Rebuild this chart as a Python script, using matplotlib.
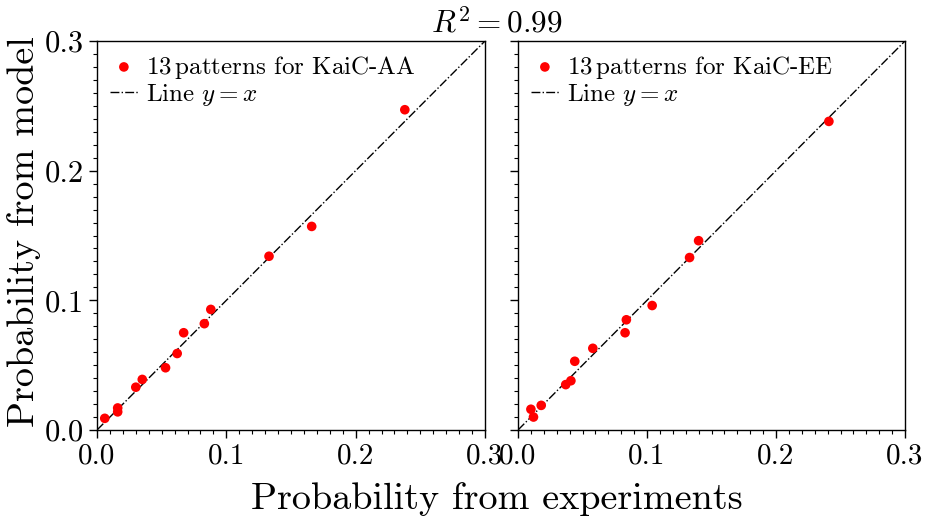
import matplotlib
matplotlib.use("Agg")
import matplotlib.pyplot as plt
from matplotlib.ticker import MultipleLocator
import numpy as np

plt.rcParams['font.family'] = ['cmr10', 'DejaVu Serif']
plt.rcParams['mathtext.fontset'] = 'cm'
plt.rcParams['axes.unicode_minus'] = False
plt.rcParams['axes.formatter.use_mathtext'] = True

aa_exp = [0.006, 0.016, 0.016, 0.030, 0.035, 0.053, 0.062, 0.067, 0.083, 0.088, 0.133, 0.166, 0.238]
aa_mod = [0.009, 0.017, 0.014, 0.033, 0.039, 0.048, 0.059, 0.075, 0.082, 0.093, 0.134, 0.157, 0.247]
ee_exp = [0.010, 0.012, 0.018, 0.037, 0.041, 0.044, 0.058, 0.083, 0.084, 0.104, 0.133, 0.140, 0.241]
ee_mod = [0.016, 0.010, 0.019, 0.035, 0.038, 0.053, 0.063, 0.075, 0.085, 0.096, 0.133, 0.146, 0.238]
line_xy = [0.0, 0.3]
ticks = [0.0, 0.1, 0.2, 0.3]
tick_labels = ["0.0", "0.1", "0.2", "0.3"]
labels = ["13$\\,$patterns for KaiC-AA", "13$\\,$patterns for KaiC-EE"]

W, H = 926, 521
fig = plt.figure(figsize=(W/100, H/100), dpi=100)
ax1 = fig.add_axes([97/W, (H-430)/H, 388/W, 389/H])
ax2 = fig.add_axes([518/W, (H-430)/H, 387/W, 389/H])

for ax, xs, ys, lab in [(ax1, aa_exp, aa_mod, labels[0]), (ax2, ee_exp, ee_mod, labels[1])]:
    ax.scatter(xs, ys, s=48, color='#ff0000', edgecolors='none', label=lab, zorder=3)
    ax.plot(line_xy, line_xy, color='black', linestyle='-.', linewidth=1.0, label='Line $y=x$', zorder=2)
    ax.set_xlim(0, 0.3)
    ax.set_ylim(0, 0.3)
    ax.set_xticks(ticks)
    ax.set_yticks(ticks)
    ax.xaxis.set_minor_locator(MultipleLocator(0.01))
    ax.yaxis.set_minor_locator(MultipleLocator(0.01))
    ax.tick_params(which='major', length=6, width=1.0, labelsize=21, direction='out')
    ax.tick_params(which='minor', length=3, width=0.8, direction='out')
    for sp in ax.spines.values():
        sp.set_linewidth(1.0)
    ax.legend(loc='upper left', frameon=False, fontsize=18, handlelength=1.15,
              handletextpad=0.3, borderaxespad=0.2, labelspacing=0.05, borderpad=0.3)

ax1.set_xticklabels(tick_labels)
ax2.set_xticklabels(tick_labels)
ax1.set_yticklabels(tick_labels, fontsize=22)
ax2.tick_params(labelleft=False)

fig.text(497/W, 1 - 24/H, "$R^2=0.99$", fontsize=22.5, ha='center', va='center')
fig.text(497/W, 1 - 499/H, "Probability from experiments", fontsize=27.5, ha='center', va='center')
fig.text(24/W, 1 - 232/H, "Probability from model", fontsize=27.5, ha='center', va='center', rotation=90)

fig.savefig("out.png", dpi=100)
